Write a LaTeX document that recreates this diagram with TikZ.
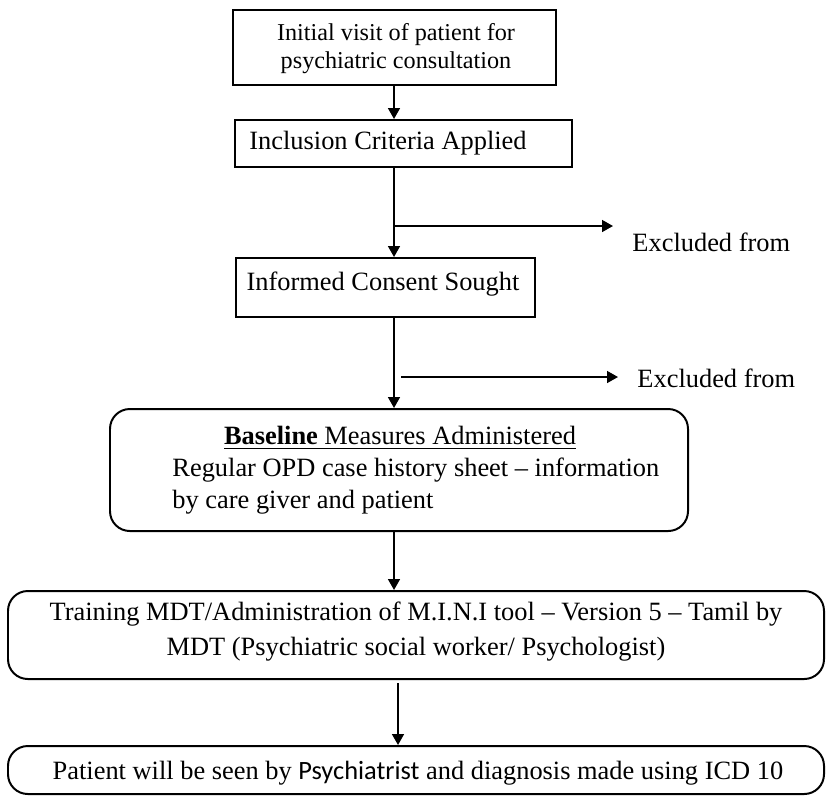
\documentclass[tikz,border=0pt]{standalone}
\usepackage{fontspec}
\setmainfont{Liberation Serif}
\newfontfamily\calibrifont{Carlito}
\usetikzlibrary{positioning,arrows.meta,fit}

\begin{document}
\begin{tikzpicture}[x=0.4545pt,y=-0.4545pt,
    box/.style={draw,line width=0.9pt,inner sep=0pt},
    rbox/.style={box,rounded corners=9pt},
    txt/.style={inner sep=0pt,font=\fontsize{12}{14.5}\selectfont},
    arr/.style={line width=0.9pt,-{Triangle[length=5pt,width=5.4pt]}}]
\useasboundingbox (0,0) rectangle (829,795);

% boxes
\node[box,fit={(233,10) (556,85)}] (visit) {};
\node[txt,align=center,font=\fontsize{11}{12.7}\selectfont] (visittxt) at (396,49)
    {Initial visit of patient for\\psychiatric consultation};
\node[box,fit={(235,120) (572,167)}] (incl) {};
\node[txt] (incltxt) at (388,143) {Inclusion Criteria Applied};
\node[box,fit={(236,258) (535,317)}] (consent) {};
\node[txt] (consenttxt) at (383,284) {Informed Consent Sought};

\node[rbox,fit={(110,409) (688,531)}] (base) {};
\node[txt] (basetxt) at (400,438) {\underline{\textbf{Baseline} Measures Administered}};
\node[txt,anchor=west] (basetxt2) at (172,470) {Regular OPD case history sheet -- information};
\node[txt,anchor=west] (basetxt3) at (172,502) {by care giver and patient};

\node[rbox,fit={(8,591) (824,679)}] (train) {};
\node[txt,align=center,font=\fontsize{12}{15.9}\selectfont] (traintxt) at (416,632)
    {Training MDT/Administration of M.I.N.I tool -- Version 5 -- Tamil by\\
     MDT (Psychiatric social worker/ Psychologist)};
\node[rbox,fit={(8,746) (824,794)}] (diag) {};
\node[txt] (diagtxt) at (418,773)
    {Patient will be seen by {\calibrifont Psychiatrist} and diagnosis made using ICD 10};

% exclusions
\coordinate (j1) at (394,226);
\coordinate (t1) at (613,226);
\node[txt,anchor=west] (ex1) at (632,242) {Excluded from};
\coordinate (j2) at (401,377);
\coordinate (t2) at (618,377);
\node[txt,anchor=west] (ex2) at (637,378) {Excluded from};
\coordinate (j3) at (398,683);

% arrows
\draw[arr] (visit.south -| j1) -- (incl.north -| j1);
\draw[arr] (incl.south -| j1) -- (consent.north -| j1);
\draw[arr] (j1) -- (t1);
\draw[arr] (consent.south -| j1) -- (base.north -| j1);
\draw[arr] (j2) -- (t2);
\draw[arr] (base.south -| j1) -- (train.north -| j1);
\draw[arr] (j3) -- (diag.north -| j3);
\end{tikzpicture}
\end{document}
